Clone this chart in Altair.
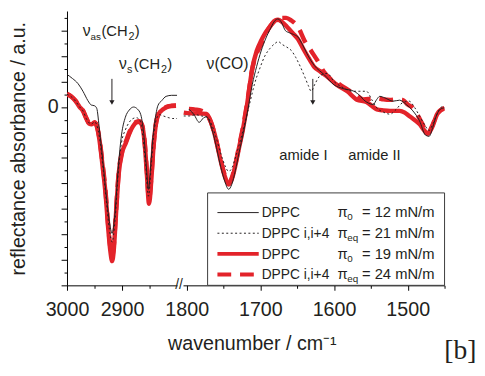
import altair as alt
import pandas as pd

FONT = "Liberation Sans"
SERIF = "Liberation Serif"
INK = "#231f20"
RED = "#e3232a"

# ---------------- data ----------------
series = ["DPPC pi0=12", "DPPC i,i+4 pieq=21", "DPPC pi0=19", "DPPC i,i+4 pieq=24"]
legend_names = ["DPPC", "DPPC i,i+4", "DPPC", "DPPC i,i+4"]
legend_sub = ["0", "eq", "0", "eq"]
legend_pressure = [12, 21, 19, 24]

# CH2 stretching region (left panel)
bk_L_wn = [3000, 2990, 2980, 2971, 2962, 2956, 2950, 2946, 2941, 2935, 2929, 2923, 2918, 2913, 2907, 2901, 2894, 2887, 2879, 2872, 2866, 2860, 2856, 2852, 2848, 2844, 2840, 2835, 2828, 2820, 2810, 2800]
bk_L_val = [1.28, 1.12, 0.92, 0.62, 0.25, 0.08, 0.05, -0.05, -0.9, -2.1, -3.4, -4.5, -4.96, -4.2, -2.4, -1.1, -0.4, -0.12, 0.0, -0.08, -0.3, -1.2, -2.3, -3.23, -2.3, -1.2, -0.5, 0.05, 0.25, 0.42, 0.46, 0.46]

dt_L_wn = [3000, 2992, 2984, 2977, 2971, 2965, 2960, 2955, 2950, 2946, 2941, 2935, 2929, 2923, 2918, 2913, 2907, 2901, 2894, 2887, 2880, 2874, 2868, 2862, 2857, 2852, 2847, 2843, 2838, 2832, 2825, 2815, 2808, 2800]
dt_L_val = [0.5, 0.4, 0.22, 0.0, -0.15, -0.45, -0.62, -0.66, -0.58, -0.7, -1.2, -2.3, -3.6, -4.8, -5.3, -4.5, -2.6, -1.4, -0.9, -0.6, -0.45, -0.42, -0.5, -1.2, -2.3, -3.5, -2.3, -1.2, -0.5, -0.3, -0.35, -0.42, -0.45, -0.45]

rd_L_wn = [3000, 2992, 2984, 2977, 2971, 2965, 2960, 2955, 2950, 2946, 2941, 2936, 2930, 2925, 2921, 2918, 2915, 2911, 2906, 2900, 2893, 2886, 2880, 2874, 2869, 2864, 2859, 2855, 2851, 2847, 2843, 2838, 2833, 2826, 2818, 2810, 2802]
rd_L_val = [0.5, 0.4, 0.22, 0.0, -0.15, -0.45, -0.65, -0.68, -0.6, -0.75, -1.3, -2.2, -3.4, -4.8, -5.7, -6.05, -5.6, -4.2, -2.6, -1.8, -1.4, -1.0, -0.75, -0.6, -0.58, -0.7, -1.4, -2.6, -3.8, -2.9, -1.6, -0.6, -0.25, -0.1, 0.0, 0.04, 0.05]

rdd_L_wn = [3000, 2992, 2984, 2977, 2971, 2965, 2960, 2955, 2950, 2946, 2941, 2936, 2930, 2925, 2921, 2918, 2915, 2911, 2906, 2900, 2893, 2886, 2880, 2874, 2869, 2864, 2859, 2855, 2851, 2847, 2843, 2838, 2833, 2826, 2818, 2810, 2802]
rdd_L_val = [0.52, 0.42, 0.24, 0.02, -0.13, -0.42, -0.62, -0.66, -0.58, -0.72, -1.25, -2.1, -3.3, -4.7, -5.55, -5.85, -5.45, -4.1, -2.55, -1.75, -1.35, -0.95, -0.72, -0.58, -0.56, -0.68, -1.35, -2.5, -3.65, -2.8, -1.55, -0.58, -0.22, -0.08, 0.02, 0.05, 0.06]

# C=O / amide region (right panel)
bk_R_wn = [1797, 1790, 1783, 1777, 1773, 1767, 1761, 1755, 1749, 1743, 1739, 1734, 1729, 1723, 1717, 1711, 1705, 1699, 1693, 1686, 1680, 1676, 1671, 1666, 1661, 1655, 1649, 1642, 1635, 1627, 1613, 1600, 1587, 1573, 1564, 1560, 1553, 1547, 1542, 1538, 1531, 1520, 1511, 1502, 1493, 1484, 1476, 1471, 1466, 1462, 1456, 1450]
bk_R_val = [-0.08, -0.3, -0.6, -0.42, -0.38, -0.75, -1.4, -2.2, -2.85, -3.23, -3.05, -2.5, -1.8, -1.0, -0.1, 0.88, 1.6, 2.2, 2.67, 3.1, 3.4, 3.46, 3.3, 3.0, 2.92, 2.85, 2.75, 2.4, 2.0, 1.64, 1.26, 0.87, 0.72, 0.62, 0.42, 0.29, 0.15, 0.1, 0.3, 0.42, 0.36, 0.23, 0.27, 0.1, -0.15, -0.54, -1.1, -1.15, -0.8, -0.41, -0.09, -0.03]

dt_R_wn = [1804, 1796, 1788, 1780, 1772, 1766, 1760, 1754, 1748, 1743, 1738, 1733, 1727, 1720, 1714, 1708, 1701, 1694, 1687, 1680, 1676, 1670, 1664, 1658, 1652, 1646, 1640, 1635, 1631, 1626, 1620, 1614, 1609, 1600, 1590, 1580, 1573, 1565, 1556, 1549, 1542, 1533, 1524, 1516, 1507, 1498, 1491, 1484, 1477, 1471, 1465, 1459, 1453]
dt_R_val = [-0.35, -0.35, -0.3, -0.35, -0.4, -0.7, -1.2, -1.8, -2.3, -2.53, -2.35, -1.9, -1.3, -0.5, 0.2, 0.9, 1.5, 2.0, 2.3, 2.5, 2.57, 2.45, 2.35, 2.22, 1.95, 1.6, 1.2, 0.85, 0.62, 0.9, 1.2, 1.3, 1.32, 1.0, 0.8, 0.65, 0.62, 0.62, 0.62, 0.3, -0.03, -0.2, -0.28, -0.1, 0.17, 0.23, 0.0, -0.35, -0.7, -0.92, -0.6, -0.2, 0.04]

rd_R_wn = [1804, 1795, 1785, 1773, 1767, 1760, 1754, 1748, 1743, 1739, 1734, 1729, 1724, 1718, 1711, 1705, 1699, 1693, 1686, 1680, 1676, 1671, 1664, 1656, 1649, 1642, 1635, 1627, 1618, 1609, 1596, 1582, 1569, 1556, 1549, 1542, 1533, 1524, 1511, 1504, 1498, 1491, 1484, 1478, 1473, 1467, 1460, 1455, 1450]
rd_R_val = [-0.22, -0.25, -0.25, -0.27, -0.6, -1.3, -2.1, -2.75, -3.04, -2.85, -2.3, -1.6, -0.92, 0.1, 1.51, 2.2, 2.6, 2.92, 3.2, 3.4, 3.43, 3.35, 3.15, 2.9, 2.67, 2.3, 1.95, 1.58, 1.38, 1.19, 0.87, 0.62, 0.29, 0.2, 0.05, -0.09, -0.13, -0.15, -0.15, -0.22, -0.35, -0.5, -0.67, -0.9, -1.05, -0.8, -0.28, -0.12, -0.05]

rdd_R_wn = [1797, 1788, 1780, 1773, 1767, 1760, 1754, 1748, 1743, 1739, 1734, 1729, 1724, 1718, 1711, 1705, 1699, 1693, 1686, 1680, 1672, 1665, 1658, 1649, 1640, 1631, 1622, 1613, 1604, 1596, 1587, 1578, 1569, 1560, 1551, 1542, 1533, 1524, 1516, 1507, 1500, 1493, 1486, 1480, 1473, 1467, 1460, 1455, 1450]
rdd_R_val = [-0.08, -0.1, -0.15, -0.3, -0.6, -1.3, -2.05, -2.7, -3.0, -2.8, -2.25, -1.55, -0.85, 0.15, 1.5, 2.1, 2.45, 2.85, 3.2, 3.4, 3.5, 3.5, 3.4, 3.15, 2.6, 2.2, 1.8, 1.35, 1.08, 0.95, 0.78, 0.62, 0.45, 0.3, 0.32, 0.35, 0.3, 0.28, 0.3, 0.28, 0.1, -0.03, -0.35, -0.67, -1.05, -0.75, -0.28, -0.12, -0.05]

y_ticks = [-7 + 0.5 * i for i in range(22)]
x_ticks_left = [3000, 2950, 2900, 2850]
x_ticks_right = [1800, 1750, 1700, 1650, 1600, 1550, 1500, 1450]

# ---------------- frames ----------------
def frame(name, wn, val):
    return pd.DataFrame({"series": name, "wn": wn, "val": val})

left_data = [frame(series[0], bk_L_wn, bk_L_val), frame(series[1], dt_L_wn, dt_L_val),
             frame(series[2], rd_L_wn, rd_L_val), frame(series[3], rdd_L_wn, rdd_L_val)]
right_data = [frame(series[0], bk_R_wn, bk_R_val), frame(series[1], dt_R_wn, dt_R_val),
              frame(series[2], rd_R_wn, rd_R_val), frame(series[3], rdd_R_wn, rdd_R_val)]

styles = [(INK, 1.0, None), (INK, 1.0, [2, 2.5]), (RED, 4.5, None), (RED, 4.5, [14, 9])]
draw_order = [2, 3, 0, 1]

one = pd.DataFrame({"k": [0]})
yscale = alt.Scale(domain=[-7, 3.77], nice=False, zero=False)


def line_layers(data, xscale, xaxis, yaxis):
    out = []
    for i in draw_order:
        color, w, dash = styles[i]
        kw = dict(color=color, strokeWidth=w, interpolate="monotone", clip=True,
                  strokeCap="butt", strokeJoin="round")
        if dash:
            kw["strokeDash"] = dash
        out.append(alt.Chart(data[i]).mark_line(**kw).encode(
            x=alt.X("wn:Q", scale=xscale, axis=xaxis),
            y=alt.Y("val:Q", scale=yscale, axis=yaxis)))
    return out


def txt(x, y, s, size=16, align="left", font=FONT, baseline="alphabetic", color=INK):
    return alt.Chart(one).mark_text(text=s, fontSize=size, font=font, align=align,
                                    baseline=baseline, color=color).encode(
        x=alt.value(x), y=alt.value(y))


def arrow(x, y1, y2):
    return [alt.Chart(one).mark_rule(color=INK, strokeWidth=1).encode(
                x=alt.value(x), y=alt.value(y1), y2=alt.value(y2 - 3)),
            alt.Chart(one).mark_point(shape="triangle-down", filled=True, color=INK,
                                      size=28, opacity=1).encode(
                x=alt.value(x), y=alt.value(y2 - 3))]


xtick_size = {"condition": {"test": "datum.value % 100 == 0", "value": 5}, "value": 3}
xlabel_size = {"condition": {"test": "datum.value % 100 == 0", "value": 20}, "value": 0}
ytick_size = {"condition": {"test": "datum.value % 1 == 0", "value": 6}, "value": 3}
ylabel_size = {"condition": {"test": "datum.value == 0", "value": 20}, "value": 0}

yaxis_left = alt.Axis(values=y_ticks, labelExpr="datum.value == 0 ? '0' : ''",
                      labelFontSize=ylabel_size,
                      tickSize=ytick_size, title="reflectance absorbance / a.u.",
                      titlePadding=19, labelPadding=3, labelOverlap=False)
xaxis_left = alt.Axis(values=x_ticks_left, format="d", tickSize=xtick_size,
                      labelFontSize=xlabel_size,
                      labelExpr="datum.value % 100 == 0 ? datum.label : ''",
                      labelFlush=False, labelOverlap=False, labelPadding=10, title=None)
xaxis_right = alt.Axis(values=x_ticks_right, format="d", tickSize=xtick_size,
                       labelFontSize=xlabel_size,
                       labelExpr="datum.value % 100 == 0 ? datum.label : ''",
                       labelFlush=False, labelOverlap=False, labelPadding=10,
                       title="wavenumber / cm⁻¹", titleX=70, titlePadding=14)

# ---------------- left panel ----------------
left_layers = line_layers(left_data, alt.Scale(domain=[3000, 2800], nice=False, zero=False),
                          xaxis_left, yaxis_left)
left_layers += [
    txt(16, 25, "ν"), txt(24, 29, "as", size=10), txt(35, 25, "(CH", size=15),
    txt(62.5, 29, "2", size=11), txt(69, 25, ")", size=15),
    txt(53, 59, "ν"), txt(61, 63, "s", size=11), txt(68, 59, "(CH", size=15),
    txt(95.5, 63, "2", size=11), txt(102, 59, ")", size=15),
]
left_layers += arrow(45.7, 69, 96)
left = alt.layer(*left_layers).properties(width=112, height=279)

# ---------------- right panel ----------------
right_layers = line_layers(right_data, alt.Scale(domain=[1805, 1450], nice=False, zero=False),
                           xaxis_right, None)
right_layers += [txt(24, 59, "ν(CO)"), txt(98, 152, "amide I", size=15),
                 txt(168, 152, "amide II", size=15)]
right_layers += arrow(132, 69, 96)
right_layers.append(alt.Chart(one).mark_rect(fill="white", stroke="#3a3a3a", strokeWidth=1).encode(
    x=alt.value(25), x2=alt.value(266), y=alt.value(185), y2=alt.value(279)))
for i in range(4):
    color, w, dash = styles[i]
    yc = 205 + 21 * i
    kw = dict(color=color, strokeWidth=w if w < 2 else 4, strokeCap="butt")
    if dash:
        kw["strokeDash"] = dash
    right_layers.append(alt.Chart(one).mark_rule(**kw).encode(
        x=alt.value(35), x2=alt.value(77), y=alt.value(yc)))
    right_layers.append(txt(80, yc + 5, legend_names[i], size=14))
    right_layers.append(txt(157, yc + 5, "π", size=15))
    right_layers.append(txt(167, yc + 8, legend_sub[i], size=10))
    right_layers.append(txt(182, yc + 5, f"= {legend_pressure[i]} mN/m", size=15))
right_layers.append(txt(-4, 279, "//", size=14, align="center", baseline="middle"))
right_layers.append(txt(282, 354, "[b]", size=28, align="center", font=SERIF))
right = alt.layer(*right_layers).properties(width=266, height=279)

chart = alt.hconcat(left, right, spacing=6, bounds="flush",
                    padding={"left": 0, "top": 0, "right": 0, "bottom": 0}).configure_view(
    stroke=None
).configure_axis(
    labelFont=FONT, titleFont=FONT, labelColor=INK, titleColor=INK,
    titleFontSize=20, titleFontWeight="normal", domainColor="black", tickColor="black",
    grid=False, domainWidth=1, tickWidth=1
)

chart.save("out.html", embed_options={"renderer": "svg", "actions": False})
